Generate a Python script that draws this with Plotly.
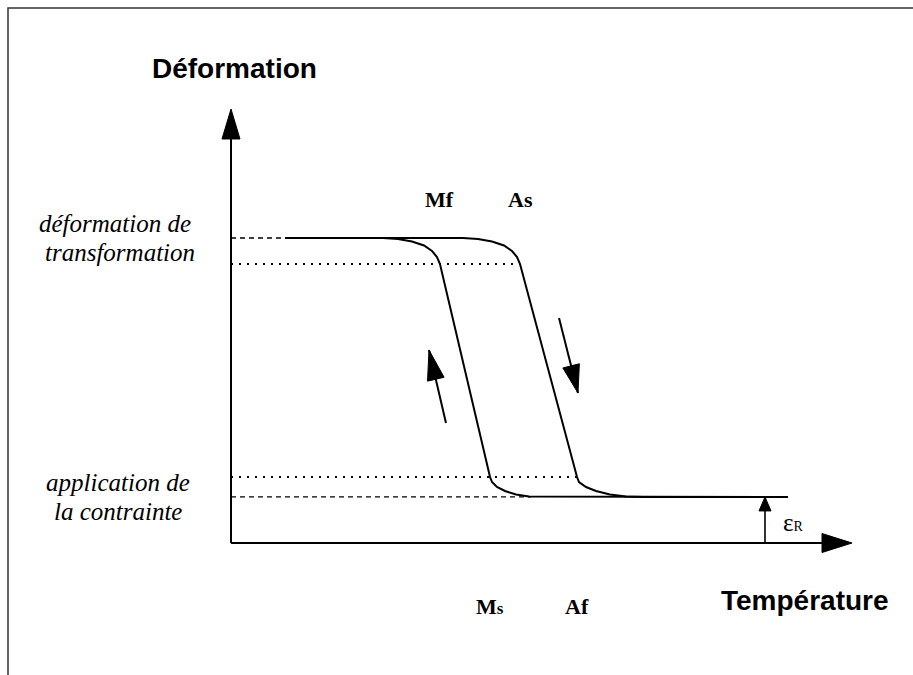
import numpy as np
import plotly.graph_objects as go

# ---------------- data (Température units T, Déformation units D) ----------------
D_TRANSFO = 100.0      # déformation de transformation
D_MF = 91.5            # level of Mf / As points
D_MS = 21.6            # level of Ms / Af points
D_APPLI = 15.1         # application de la contrainte (eps_R)

# heating branch (As -> Af), low T to high T
heat_T = [9.0, 38.67, 41.17, 43.5, 45.5, 46.83, 47.67, 48.17,
          57.67, 58.0, 59.17, 60.83, 63.17, 65.83, 68.67, 92.83]
heat_D = [100.0, 100.0, 99.67, 98.85, 97.54, 95.74, 93.77, 91.48,
          21.64, 20.0, 18.36, 17.05, 15.9, 15.25, 15.08, 15.08]

# cooling branch (Ms -> Mf), high T to low T
cool_T = [92.83, 52.0, 49.67, 47.5, 45.67, 44.33, 43.5, 43.17,
          34.83, 34.33, 33.5, 32.17, 30.17, 27.83, 25.33, 9.0]
cool_D = [15.08, 15.08, 15.25, 15.9, 17.05, 18.36, 20.0, 21.64,
          91.48, 93.77, 95.74, 97.54, 98.85, 99.67, 100.0, 100.0]

# guide lines
guide_top_dash_T = [0, 9.0]
guide_mf_dot_T = [0, 48.17]
guide_ms_dot_T = [0, 57.67]
guide_low_dash_T = [0, 50.0]

# key temperatures (labels)
T_MF, T_AS, T_MS, T_AF = 34.83, 48.17, 43.17, 57.67

# axes extents
T_AXIS_END = 103.5
D_AXIS_END = 142.3
T_EPS = 89.0

# direction arrows (tail, tip)
up_arrow_T = [35.83, 33.0]
up_arrow_D = [39.34, 63.28]
down_arrow_T = [54.67, 57.83]
down_arrow_D = [73.77, 49.18]

# ---------------- scales ----------------
W, H = 913, 675
SX, SY = 6.0, 3.05             # px per unit
X0PX, Y0PX = 231, 543          # origin in px
x_range = [-X0PX / SX, (W - X0PX) / SX]
y_range = [-(H - Y0PX) / SY, Y0PX / SY]

fig = go.Figure()
BLACK = "#000000"


def line(T, D, width=2, dash="solid"):
    fig.add_trace(go.Scatter(x=T, y=D, mode="lines", hoverinfo="skip",
                             line=dict(color=BLACK, width=width, dash=dash),
                             showlegend=False))


def head(T_from, D_from, T_tip, D_tip, length, width):
    dx = (T_tip - T_from) * SX
    dy = (D_tip - D_from) * SY
    n = np.hypot(dx, dy)
    ux, uy = dx / n, dy / n
    px, py = -uy, ux
    bx, by = -ux * length, -uy * length
    pts = [(0, 0), (bx + px * width / 2, by + py * width / 2),
           (bx - px * width / 2, by - py * width / 2), (0, 0)]
    xs = [T_tip + p[0] / SX for p in pts]
    ys = [D_tip + p[1] / SY for p in pts]
    fig.add_trace(go.Scatter(x=xs, y=ys, mode="lines", fill="toself",
                             fillcolor=BLACK, hoverinfo="skip",
                             line=dict(color=BLACK, width=1), showlegend=False))


# guides
line(guide_top_dash_T, [D_TRANSFO] * 2, 1.3, "5px,4px")
line(guide_mf_dot_T, [D_MF] * 2, 2, "2px,6px")
line(guide_ms_dot_T, [D_MS] * 2, 2, "2px,6px")
line(guide_low_dash_T, [D_APPLI] * 2, 1.3, "5px,4px")

# curves
line(heat_T, heat_D, 2, "solid")
line(cool_T, cool_D, 2, "solid")

# axes
line([0, 0], [0, D_AXIS_END - 8], 2)
head(0, 0, 0, D_AXIS_END, 30, 18)
line([0, T_AXIS_END - 4], [0, 0], 2)
head(0, 0, T_AXIS_END, 0, 30, 19)

# eps_R arrow
line([T_EPS, T_EPS], [0, D_APPLI - 2], 1.6)
head(T_EPS, 0, T_EPS, D_APPLI, 14, 12)

# direction arrows
line(up_arrow_T, up_arrow_D, 2)
head(up_arrow_T[0], up_arrow_D[0], up_arrow_T[1], up_arrow_D[1], 30, 17)
line(down_arrow_T, down_arrow_D, 2)
head(down_arrow_T[0], down_arrow_D[0], down_arrow_T[1], down_arrow_D[1], 28, 17)

# ---------------- texts ----------------
SANS = "Liberation Sans"
SERIF = "Liberation Serif"


def text(T, D, s, family, size, xanchor="center"):
    fig.add_annotation(x=T, y=D, text=s, showarrow=False, xanchor=xanchor,
                       yanchor="middle", font=dict(family=family, size=size, color=BLACK))


text(0.5, 155.7, "<b>Déformation</b>", SANS, 28)
text(95.6, -18.7, "<b>Température</b>", SANS, 28)

text(-19.3, 104.6, "<i>déformation de</i>", SERIF, 25)
text(-18.5, 95.1, "<i>transformation</i>", SERIF, 25)
text(-18.8, 20.0, "<i>application de</i>", SERIF, 25)
text(-18.8, 10.2, "<i>la contrainte</i>", SERIF, 25)

text(T_MF, 112.5, "<b>Mf</b>", SERIF, 22)
text(T_AS, 112.5, "<b>As</b>", SERIF, 22)
text(T_MS, -20.7, "<b>M<span style='font-size:17px'>s</span></b>", SERIF, 22)
text(T_AF, -20.7, "<b>Af</b>", SERIF, 22)

text(93.8, 6.6, "ε<span style='font-size:14px'>R</span>", SERIF, 25)

# ---------------- layout ----------------
fig.update_layout(
    width=W, height=H, margin=dict(l=0, r=0, t=0, b=0),
    paper_bgcolor="white", plot_bgcolor="white",
    xaxis=dict(range=x_range, visible=False, fixedrange=True),
    yaxis=dict(range=y_range, visible=False, fixedrange=True),
    hovermode=False,
    shapes=[dict(type="rect", xref="paper", yref="paper",
                 x0=8 / W, x1=1.05, y0=-0.05, y1=1 - 8 / H,
                 line=dict(color="#333333", width=1.5))],
)

fig.write_html("out.html", config={"displayModeBar": False},
               post_script="document.body.style.margin='0px';")
